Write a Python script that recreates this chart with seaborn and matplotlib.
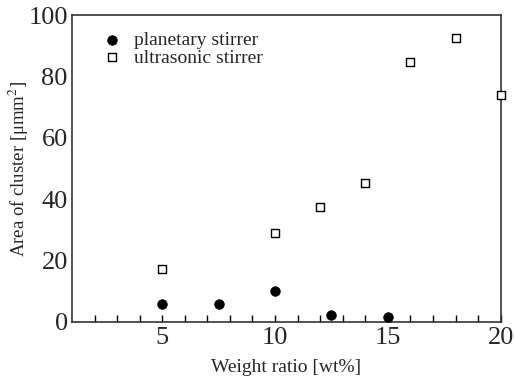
import matplotlib
matplotlib.use("Agg")
import matplotlib.pyplot as plt
import seaborn as sns
import pandas as pd

planetary_x = [5, 7.5, 10, 12.5, 15]
planetary_y = [5.8, 5.7, 10.0, 2.1, 1.5]
ultrasonic_x = [5, 10, 12, 14, 16, 18, 20]
ultrasonic_y = [17.1, 29.0, 37.5, 45.3, 84.8, 92.5, 73.9]
x_ticks = [5, 10, 15, 20]
y_ticks = [0, 20, 40, 60, 80, 100]

sns.set_style("white")
plt.rcParams['font.family'] = ['Liberation Serif', 'DejaVu Serif']
plt.rcParams['mathtext.fontset'] = 'stix'

fig = plt.figure(figsize=(5.14, 3.83), dpi=100)
ax = fig.add_axes([0.140, 0.160, 0.834, 0.800])

df_p = pd.DataFrame({"x": planetary_x, "y": planetary_y})
df_u = pd.DataFrame({"x": ultrasonic_x, "y": ultrasonic_y})

sns.scatterplot(data=df_p, x="x", y="y", ax=ax, marker="o", s=48,
                color="black", edgecolor="black", linewidth=0.5,
                label="planetary stirrer", zorder=3, clip_on=False)
sns.scatterplot(data=df_u, x="x", y="y", ax=ax, marker="s", s=40,
                facecolor="white", edgecolor="black", linewidth=1.0,
                label="ultrasonic stirrer", zorder=3, clip_on=False)

ax.set_xlim(1, 20)
ax.set_ylim(0, 100)
ax.set_xticks(x_ticks)
ax.set_xticks(list(range(2, 20)), minor=True)
ax.set_yticks(y_ticks)
ax.tick_params(axis='x', which='both', direction='in', length=5, width=1,
               color='black', labelsize=19, pad=4, bottom=True)
ax.tick_params(axis='y', which='both', length=0, labelsize=19, pad=3)

for sp in ax.spines.values():
    sp.set_visible(True)
    sp.set_color('#333333')
    sp.set_linewidth(1.2)

ax.set_xlabel("Weight ratio [wt%]", fontsize=14)
ax.xaxis.set_label_coords(0.5, -0.122)
ax.set_ylabel("Area of cluster [μmm$^{2}$]", fontsize=13.5)
ax.yaxis.set_label_coords(-0.096, 0.5)

leg = ax.legend(loc="upper left", frameon=False, fontsize=14,
                handletextpad=0.3, borderaxespad=0.0, labelspacing=0.0,
                handlelength=1.6, bbox_to_anchor=(0.04, 0.973))

fig.savefig("out.png", dpi=100)
